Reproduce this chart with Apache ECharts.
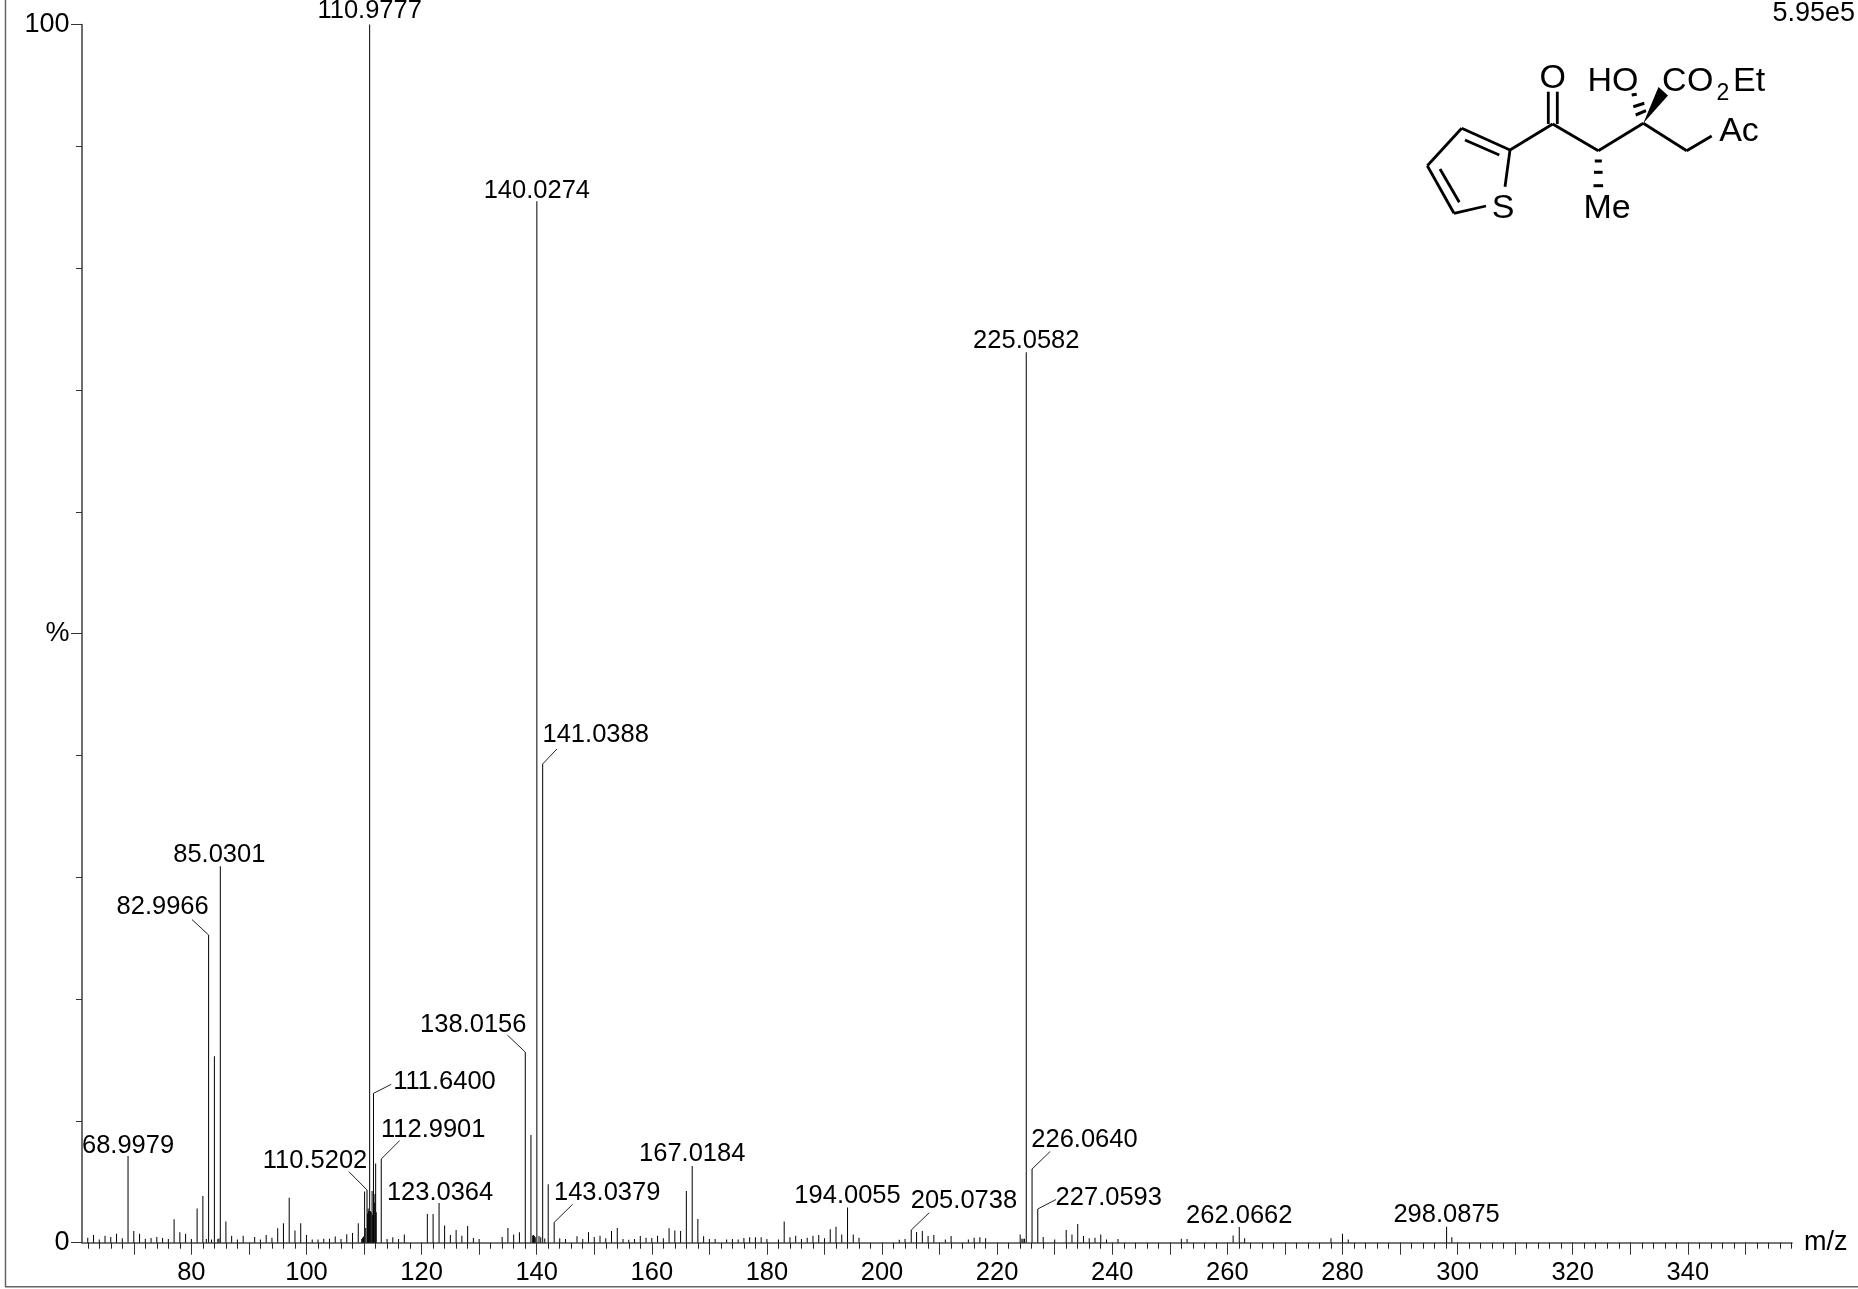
<!DOCTYPE html>
<html>
<head>
<meta charset="utf-8">
<style>html,body{margin:0;padding:0;background:#fff}#c{width:1858px;height:1289px}</style>
<script src="https://cdn.jsdelivr.net/npm/echarts@6/dist/echarts.min.js"></script>
</head>
<body>
<div id="c"></div>
<script>
// m/z of every peak
const peakMz = [
62,63,64,65,66,67,68,68.9979,70,71,72,73,74,75,76,77,78,79,80,81,82,82.6,82.9966,83.5,84,84.6,84.8,85.0301,86,87,88,89,91,92,93,94,95,96,97,98,99,100,101,102,103,104,105,106,107,108,109,
109.6,109.75,109.9,110.1,110.3,110.5202,110.62,110.72,110.82,110.9,110.9777,111.1,111.25,111.4,111.5,111.64,111.78,111.9,112.02,112.12,112.9901,
114,115,116,117,121,122,123.0364,124,125,126,127,128,129,130,134,135,136,137,138.0156,139,139.3,139.45,139.6,139.75,140.0274,140.4,140.7,141.0388,141.4,142,143.0379,
144,145,147,148,149,150,151,152,153,154,155,156,157,158,159,160,161,162,163,164,165,166,167.0184,168,169,170,171,173,174,175,176,177,178,179,180,182,183,184,185,186,187,188,189,190,191,192,193,194.0055,195,196,
203,204,205.0738,206,207,208,209,211,212,215,216,217,218,224,224.3,224.5,224.75,225.0582,226.064,227.0593,228,230,232,233,234,235,236,237,238,239,241,252,253,261,262.0662,263,278,280,281,298.0875,299
];
// relative intensity (%) of every peak, same order
const peakIntensity = [
0.4,0.63,0.27,0.58,0.47,0.74,0.36,7.12,0.96,0.74,0.33,0.38,0.47,0.38,0.3,1.92,0.85,0.74,0.3,2.8,3.84,0.3,25.26,0.27,15.3,0.3,0.35,30.9,1.75,0.58,0.27,0.58,0.47,0.27,0.63,0.4,1.18,1.6,3.7,1.0,1.6,0.63,0.27,0.27,0.33,0.33,0.5,0.3,0.7,0.8,1.6,
0.3,0.4,0.5,4.2,1.2,4.33,2.4,2.8,2.6,2.5,100,2.6,2.5,4.25,2.3,12.26,3.3,4.0,6.5,2.5,6.87,
0.3,0.44,0.3,0.68,2.36,2.36,3.26,1.42,0.63,1.04,0.58,1.37,0.38,0.3,0.47,1.2,0.68,0.85,15.65,8.84,0.6,0.63,0.55,0.45,85.5,0.55,0.45,39.3,0.35,4.8,1.67,
0.36,0.3,0.52,0.3,0.85,0.47,0.58,0.36,0.96,1.2,0.3,0.25,0.3,0.55,0.41,0.38,0.58,0.36,1.18,1.0,0.96,4.25,6.3,1.95,0.52,0.3,0.3,0.27,0.3,0.27,0.38,0.44,0.44,0.44,0.3,0.27,1.75,0.44,0.58,0.3,0.41,0.58,0.63,0.36,1.1,1.3,0.68,2.88,0.68,0.41,
0.25,0.3,1.04,0.88,0.96,0.55,0.63,0.27,0.55,0.27,0.41,0.44,0.36,0.68,0.33,0.33,0.33,73.1,6.05,2.77,0.47,0.27,1.04,0.68,1.53,0.55,0.36,0.41,0.68,0.27,0.3,0.33,0.3,0.6,1.29,0.36,0.36,0.74,0.27,1.3,0.44
];
// peaks that carry a printed m/z value
const labelledMz = [68.9979,82.9966,85.0301,110.5202,110.9777,111.64,112.9901,123.0364,138.0156,140.0274,141.0388,143.0379,167.0184,194.0055,205.0738,225.0582,226.064,227.0593,262.0662,298.0875];

// axis tick values
const xLabelTicks = [80,100,120,140,160,180,200,220,240,260,280,300,320,340];
const xLongTicks = [70,80,90,100,110,120,130,140,150,160,170,180,190,200,210,220,230,240,250,260,270,280,290,300,310,320,330,340,350];
const xShortStep = 2;
const yTicks = [0,10,20,30,40,50,60,70,80,90,100];
const yLabelTicks = [0,50,100];

// label placement in pixels relative to the peak top: text dx, dy, and optional leader end dx, dy
const labelPlacement = {
  '68.9979':[0,-10], '82.9966':[-46,-28,-16.6,-15.4], '85.0301':[-1,-11],
  '110.5202':[-52,-29,-18.2,-18.3], '110.9777':[0,-13.5], '111.64':[71,-11,17.8,-9],
  '112.9901':[52,-29.5,18.4,-18.3], '123.0364':[1,-10.5], '138.0156':[-52,-27,-17.9,-17],
  '140.0274':[0,-10.6], '141.0388':[53,-28.5,14.3,-15], '143.0379':[53,-29.3,18.4,-18],
  '167.0184':[0,-11.7], '194.0055':[0,-11.7], '205.0738':[52.7,-29,18,-17.3],
  '225.0582':[0,-11], '226.064':[52.4,-28.8,18.2,-17.6], '227.0593':[71,-10.7,18.2,-9.4],
  '262.0662':[0,-11], '298.0875':[0,-11.7]
};

const FONT = '"Liberation Sans", Arial, sans-serif';
const INK = '#000';
const AXIS = '#4a4a4a';

const xShortTicks = [];
for (let v = 62; v <= 358; v += xShortStep) xShortTicks.push(v);

const chart = echarts.init(document.getElementById('c'), null, {renderer:'canvas', width:1858, height:1289});

function bond(x1,y1,x2,y2,w){
  return {type:'line', silent:true, shape:{x1,y1,x2,y2}, style:{stroke:'#000', lineWidth:w||2.8, lineCap:'butt'}};
}
function atom(text,x,y,size,align){
  return {type:'text', silent:true, style:{text, x, y, fill:'#000', font:(size||34)+'px '+FONT, textAlign:align||'center', textVerticalAlign:'middle'}};
}
const molecule = [
  bond(1510,150,1461.7,128.3), bond(1461.7,128.3,1427.3,165.7), bond(1427.3,165.7,1454,213.3),
  bond(1454,213.3,1486,206), bond(1510,150,1505,186.7),
  bond(1499.3,155,1465,140), bond(1440,169,1459.3,202.3),
  bond(1510,150,1552.7,124), bond(1548.3,124,1548.3,91.7), bond(1557.3,124,1557.3,91.7),
  bond(1552.7,124,1598.3,150.7), bond(1598.3,150.7,1643.3,123.3),
  bond(1643.3,123.3,1686.7,150.7), bond(1686.7,150.7,1711.7,136),
  bond(1594.8,161,1601.8,161,3), bond(1594,172.3,1602.6,172.3,3), bond(1593.5,185.7,1603.1,185.7,3),
  bond(1631.7,95,1636.7,94.3,3), bond(1633.3,106.7,1644.3,103.3,3), bond(1635.7,115,1646,110.7,3),
  {type:'polygon', silent:true, shape:{points:[[1643.3,123.3],[1658.5,87],[1668,95.5]]}, style:{fill:'#000'}},
  atom('O',1552.7,79), atom('HO',1613,82), atom('C',1662,82,34,'left'), atom('O',1687,82,34,'left'),
  atom('2',1716.5,94,23,'left'), atom('Et',1733,82,34,'left'), atom('Ac',1739,132),
  atom('S',1503,209), atom('Me',1607,209),
  atom('5.95e5',1855,14,27,'right')
];
const frame = [
  {type:'line', silent:true, shape:{x1:5.5,y1:0,x2:5.5,y2:1287}, style:{stroke:'#666', lineWidth:1.5}},
  {type:'line', silent:true, shape:{x1:5,y1:1286.7,x2:1858,y2:1286.7}, style:{stroke:'#666', lineWidth:1.5}}
];

chart.setOption({
  animation:false,
  backgroundColor:'#fff',
  grid:{left:82, right:66, top:24.5, bottom:46.3},
  xAxis:[
    {type:'value', min:61, max:358.1, position:'bottom', splitLine:{show:false},
     axisLine:{show:true, onZero:false, lineStyle:{color:AXIS, width:1.6}},
     axisTick:{show:true, length:6, customValues:xShortTicks, lineStyle:{color:'#222', width:1}},
     axisLabel:{show:false},
     name:'m/z', nameLocation:'end', nameGap:12,
     nameTextStyle:{color:'#000', fontSize:27, fontFamily:FONT, padding:[5,0,0,0]}},
    {type:'value', min:61, max:358.1, position:'bottom', splitLine:{show:false},
     axisLine:{show:false, onZero:false},
     axisTick:{show:true, length:12, customValues:xLongTicks, lineStyle:{color:'#333', width:1}},
     axisLabel:{show:true, margin:17, fontSize:25.5, color:'#000', fontFamily:FONT, customValues:xLabelTicks, hideOverlap:false}}
  ],
  yAxis:[
    {type:'value', min:0, max:100, position:'left', splitLine:{show:false},
     axisLine:{show:true, onZero:false, lineStyle:{color:AXIS, width:1.6}},
     axisTick:{show:true, length:6, customValues:yTicks, lineStyle:{color:'#333', width:1}},
     axisLabel:{show:false}},
    {type:'value', min:0, max:100, position:'left', splitLine:{show:false},
     axisLine:{show:false, onZero:false},
     axisTick:{show:true, length:11, customValues:yLabelTicks, lineStyle:{color:'#333', width:1}},
     axisLabel:{show:true, margin:12.5, fontSize:27, color:'#000', fontFamily:FONT, customValues:yLabelTicks, padding:[4,0,0,0],
       formatter:v => v === 50 ? '%' : String(v)}}
  ],
  series:[
    {type:'bar', name:'spectrum', xAxisIndex:0, yAxisIndex:0, barWidth:1, silent:true,
     itemStyle:{color:INK},
     data:peakMz.map((m,i)=>[m,peakIntensity[i]])},
    {type:'custom', name:'peak labels', xAxisIndex:0, yAxisIndex:0, silent:true, clip:false, z:5,
     encode:{x:0,y:1},
     data:labelledMz.map(m=>[m,peakIntensity[peakMz.indexOf(m)]]),
     renderItem:function(params,api){
       const m = api.value(0);
       const p = api.coord([m,api.value(1)]);
       const place = labelPlacement[String(m)];
       const children = [{type:'text', style:{text:m.toFixed(4), x:p[0]+place[0], y:p[1]+place[1],
         fill:'#000', font:'25.5px '+FONT, textAlign:'center', textVerticalAlign:'middle'}}];
       if (place.length>2) children.push({type:'line', shape:{x1:p[0],y1:p[1],x2:p[0]+place[2],y2:p[1]+place[3]},
         style:{stroke:'#222', lineWidth:1}});
       return {type:'group', children};
     }}
  ],
  graphic:{elements:frame.concat(molecule)}
});
</script>
</body>
</html>
